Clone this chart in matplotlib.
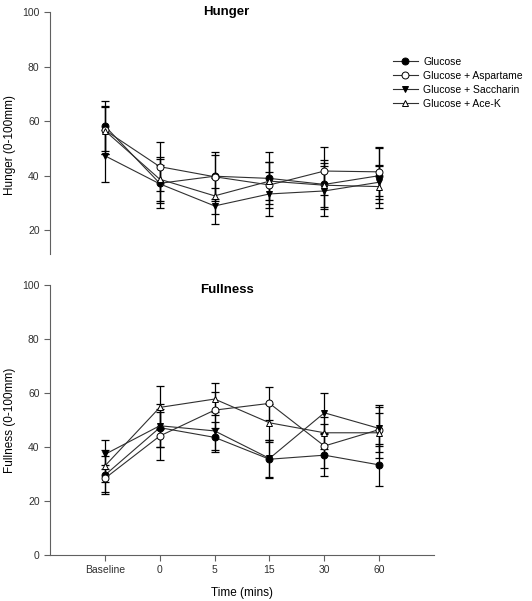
import matplotlib.pyplot as plt
import numpy as np

plt.rcParams['font.family'] = ['Liberation Sans', 'DejaVu Sans']
plt.rcParams.update({'font.size': 7.5})

times = ["Baseline", "0", "5", "15", "30", "60"]
groups = ["Glucose", "Glucose + Aspartame", "Glucose + Saccharin", "Glucose + Ace-K"]

# hunger (0-100mm), mean and error
glucose_h = [58.2, 37.2, 39.8, 39.0, 36.8, 40.0]
glucose_h_err = [9.0, 9.0, 9.0, 9.5, 9.0, 10.0]
aspartame_h = [56.7, 43.3, 39.6, 36.6, 41.7, 41.4]
aspartame_h_err = [8.8, 9.0, 8.0, 8.5, 8.7, 9.0]
saccharin_h = [47.3, 37.0, 28.9, 33.3, 34.4, 37.6]
saccharin_h_err = [9.5, 7.0, 6.6, 8.0, 9.1, 6.0]
acek_h = [56.5, 38.7, 32.6, 38.0, 36.5, 36.0]
acek_h_err = [8.5, 8.0, 6.5, 7.0, 8.0, 8.0]

# fullness (0-100mm)
glucose_f = [29.6, 47.2, 43.6, 35.5, 37.0, 33.4]
glucose_f_err = [7.0, 7.0, 5.6, 7.0, 7.7, 7.8]
aspartame_f = [28.4, 44.1, 53.7, 56.2, 40.4, 46.5]
aspartame_f_err = [5.0, 9.0, 6.8, 6.1, 8.0, 6.0]
saccharin_f = [37.3, 47.9, 46.0, 35.8, 52.7, 46.9]
saccharin_f_err = [5.5, 8.0, 7.0, 7.0, 7.4, 8.7]
acek_f = [33.0, 54.7, 57.8, 49.0, 45.3, 45.3]
acek_f_err = [6.0, 8.1, 5.8, 7.0, 6.0, 9.4]

styles = [('o', 'black'), ('o', 'white'), ('v', 'black'), ('^', 'white')]
axis_col = '#606060'

fig = plt.figure(figsize=(5.32, 6.01), dpi=100)
ax1 = fig.add_axes([0.094, 0.577, 0.722, 0.403])
ax2 = fig.add_axes([0.094, 0.0765, 0.722, 0.449])

x = np.arange(len(times))


def draw(ax, means, errs):
    for (m, fc), y, e, name in zip(styles, means, errs, groups):
        ax.errorbar(x, y, yerr=e, fmt='none', ecolor='black', elinewidth=0.9,
                    capsize=3, capthick=0.9, zorder=2)
    for (m, fc), y, e, name in zip(styles, means, errs, groups):
        ax.plot(x, y, color='#303030', lw=0.8, marker=m, markersize=5,
                markerfacecolor=fc, markeredgecolor='black', markeredgewidth=0.7,
                label=name, zorder=3)
    ax.set_xlim(-1, 6)
    for s in ['top', 'right']:
        ax.spines[s].set_visible(False)
    ax.spines['left'].set_color(axis_col)
    ax.spines['bottom'].set_color(axis_col)
    ax.tick_params(colors=axis_col, labelcolor='#303030', length=4, width=0.8)


draw(ax1, [glucose_h, aspartame_h, saccharin_h, acek_h],
     [glucose_h_err, aspartame_h_err, saccharin_h_err, acek_h_err])
draw(ax2, [glucose_f, aspartame_f, saccharin_f, acek_f],
     [glucose_f_err, aspartame_f_err, saccharin_f_err, acek_f_err])

ax1.set_ylim(11.2, 100)
ax1.set_yticks([20, 40, 60, 80, 100])
ax1.spines['bottom'].set_visible(False)
ax1.set_xticks([])
ax1.set_ylabel("Hunger (0-100mm)", fontsize=8.5)
ax1.yaxis.set_label_coords(-0.088, 0.45)
ax1.legend(loc='upper left', bbox_to_anchor=(0.882, 0.832), frameon=False,
           fontsize=7.5, handlelength=2.4, handletextpad=0.5, labelspacing=0.38,
           borderaxespad=0)

ax2.set_ylim(0, 100)
ax2.set_yticks([0, 20, 40, 60, 80, 100])
ax2.set_xticks(x)
ax2.set_xticklabels(times)
ax2.set_ylabel("Fullness (0-100mm)", fontsize=8.5)
ax2.yaxis.set_label_coords(-0.088, 0.5)
ax2.set_xlabel("Time (mins)", fontsize=8.5, labelpad=8)

fig.text(226 / 532, 1 - 12 / 601, "Hunger", ha='center', va='center',
         fontsize=9.5, fontweight='bold')
fig.text(227 / 532, 1 - 290 / 601, "Fullness", ha='center', va='center',
         fontsize=9.5, fontweight='bold')

plt.savefig("out.png", dpi=100)
